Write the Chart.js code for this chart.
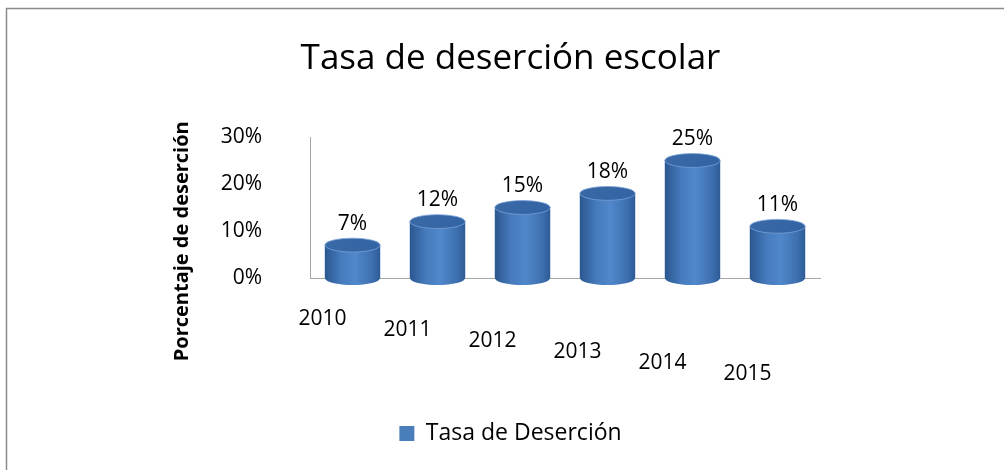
<!DOCTYPE html>
<html><head><meta charset="utf-8">
<script src="https://cdn.jsdelivr.net/npm/chart.js@4/dist/chart.umd.min.js"></script>
<style>html,body{margin:0;padding:0;background:#fff}#wrap{width:1004px;height:470px;position:relative}</style>
</head><body><div id="wrap"><canvas id="c" width="1004" height="470"></canvas></div>
<script>
const categories = ['2010', '2011', '2012', '2013', '2014', '2015'];
const seriesName = 'Tasa de Deserción';
const values = [7, 12, 15, 18, 25, 11];
const yTickValues = [0, 10, 20, 30];
const chartTitle = 'Tasa de deserción escolar';
const yAxisTitle = 'Porcentaje de deserción';

const FONT = "'Open Sans', Carlito, Lato, sans-serif";
const BAR = '#4a7ebb';

const framePlugin = {
  id: 'frame',
  beforeDraw(chart) {
    const c = chart.ctx;
    c.save();
    c.fillStyle = '#fff';
    c.fillRect(0, 0, chart.width, chart.height);
    c.strokeStyle = '#8a8a8a';
    c.lineWidth = 1.5;
    c.beginPath();
    c.moveTo(6.5, chart.height);
    c.lineTo(6.5, 8.5);
    c.lineTo(chart.width, 8.5);
    c.stroke();
    c.restore();
  }
};

const cylinderPlugin = {
  id: 'cylinder',
  afterDatasetsDraw(chart) {
    const c = chart.ctx;
    const meta = chart.getDatasetMeta(0);
    meta.data.forEach((bar, i) => {
      const p = bar.getProps(['x', 'y', 'base', 'width'], true);
      const rx = p.width / 2, ry = p.width * 0.125;
      const g = c.createLinearGradient(p.x - rx, 0, p.x + rx, 0);
      g.addColorStop(0, '#2b5790');
      g.addColorStop(0.3, '#467bbd');
      g.addColorStop(0.55, '#5088cb');
      g.addColorStop(0.85, '#3e70b0');
      g.addColorStop(1, '#2d5b96');
      c.save();
      c.beginPath();
      c.moveTo(p.x - rx, p.y);
      c.lineTo(p.x - rx, p.base);
      c.ellipse(p.x, p.base, rx, ry, 0, Math.PI, 0, true);
      c.lineTo(p.x + rx, p.y);
      c.ellipse(p.x, p.y, rx, ry, 0, 0, Math.PI, false);
      c.closePath();
      c.fillStyle = g;
      c.fill();
      const gt = c.createLinearGradient(p.x - rx, p.y - ry, p.x + rx, p.y + ry);
      gt.addColorStop(0, '#3a69a6');
      gt.addColorStop(1, '#3263a3');
      c.beginPath();
      c.ellipse(p.x, p.y, rx, ry, 0, 0, Math.PI * 2);
      c.fillStyle = gt;
      c.fill();
      c.strokeStyle = 'rgba(120,160,215,0.8)';
      c.lineWidth = 1;
      c.stroke();
      c.fillStyle = '#000';
      c.font = '21px ' + FONT;
      c.textAlign = 'center';
      c.textBaseline = 'bottom';
      c.fillText(values[i] + '%', p.x, p.y - ry - 4);
      c.restore();
    });
  }
};

new Chart(document.getElementById('c'), {
  type: 'bar',
  data: {
    labels: categories,
    datasets: [{
      label: seriesName,
      data: values,
      backgroundColor: BAR,
      borderWidth: 0,
      barPercentage: 0.65,
      categoryPercentage: 1
    }]
  },
  plugins: [framePlugin, cylinderPlugin],
  options: {
    responsive: false,
    animation: false,
    devicePixelRatio: 1,
    layout: { padding: { left: 167, right: 150, top: 20, bottom: 15 } },
    plugins: {
      title: {
        display: true,
        text: chartTitle,
        color: '#000',
        font: { family: FONT, size: 35, weight: 'normal' },
        padding: { top: 18, bottom: 57 }
      },
      legend: {
        position: 'bottom',
        labels: {
          color: '#000',
          font: { family: FONT, size: 23 },
          boxWidth: 15,
          boxHeight: 15,
          padding: 10
        }
      },
      tooltip: { enabled: false }
    },
    scales: {
      x: {
        grid: { display: false },
        border: { display: true, color: '#a6a6a6' },
        afterFit: s => { s.height = 134; },
        ticks: {
          color: '#000',
          maxRotation: 0,
          autoSkip: false,
          padding: 10,
          labelOffset: -30,
          font: ctx => ({ family: FONT, size: 21, lineHeight: (46 + ctx.index * 22) + 'px' })
        }
      },
      y: {
        min: 0,
        max: 30,
        afterFit: s => { s.width = 143; },
        afterBuildTicks: s => { s.ticks = yTickValues.map(v => ({ value: v })); },
        grid: { display: false },
        border: { display: true, color: '#a6a6a6' },
        ticks: {
          color: '#000',
          padding: 40,
          font: { family: FONT, size: 21 },
          callback: v => v + '%'
        },
        title: {
          display: true,
          text: yAxisTitle + '             ',
          color: '#000',
          font: { family: FONT, size: 20, weight: 'bold' },
          padding: { top: 3, bottom: 0 }
        }
      },
      yRight: {
        type: 'linear',
        position: 'right',
        min: 0,
        max: 30,
        afterFit: s => { s.width = 34; },
        grid: { display: false },
        border: { display: false },
        ticks: { display: false }
      }
    }
  }
});
</script></body></html>
